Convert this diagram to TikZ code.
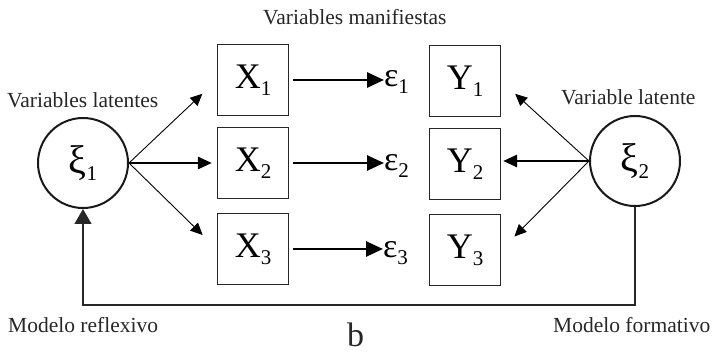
\documentclass[tikz,border=0pt]{standalone}
\usepackage{fontspec}
\setmainfont{Liberation Serif}
\usetikzlibrary{arrows.meta}
\newcommand\subn[1]{\raisebox{-7pt}{\fontsize{21}{21}\selectfont #1}}
\begin{document}
\begin{tikzpicture}[x=1pt,y=-1pt,
 var/.style={draw=black!85, line width=1.2pt, minimum size=71pt, inner sep=0pt, font=\fontsize{36}{36}\selectfont},
 lat/.style={circle, draw=black!90, line width=2pt, minimum size=90pt, inner sep=0pt, font=\fontsize{40}{40}\selectfont},
 lbl/.style={font=\fontsize{21.5}{22}\selectfont, inner sep=0pt, anchor=base west, text=black!85},
 err/.style={font=\fontsize{34}{34}\selectfont, inner sep=0pt, anchor=west},
 thinarr/.style={line width=0.9pt, -{Triangle[length=12pt,width=11pt]}},
 thickarr/.style={line width=2.6pt, -{Triangle[length=14pt,width=12pt]}},
 errarr/.style={line width=2.6pt, -{Triangle[length=17pt,width=15pt]}},
]
\useasboundingbox (0,0) rectangle (720,355);

\node[lat] (xi1) at (83,163) {ξ\subn{1}};
\node[lat] (xi2) at (635,161) {ξ\subn{2}};

\node[var] (X1) at (253,80) {X\subn{1}};
\node[var] (X2) at (253,163) {X\subn{2}};
\node[var] (X3) at (253,249) {X\subn{3}};
\node[var] (Y1) at (465,81) {Y\subn{1}};
\node[var] (Y2) at (465,164) {Y\subn{2}};
\node[var] (Y3) at (465,250) {Y\subn{3}};

\node[err] (e1) at (384,82) {ε\subn{1}};
\node[err] (e2) at (384,166) {ε\subn{2}};
\node[err] (e3) at (383,253) {ε\subn{3}};

\draw[errarr, shorten <=4pt] (X1.east) -- (X1.east -| e1.west);
\draw[errarr, shorten <=4pt] (X2.east) -- (X2.east -| e2.west);
\draw[errarr, shorten <=4pt] (X3.east) -- (X3.east -| e3.west);

\draw[thinarr, shorten >=20pt] (xi1.east) -- (X1.west);
\draw[thickarr, shorten >=5pt] (xi1.east) -- (xi1.east -| X2.west);
\draw[thinarr, shorten >=20pt] (xi1.east) -- (X3.west);

\draw[thinarr, shorten >=19pt] (xi2.west) -- (Y1.east);
\draw[thickarr, shorten >=2pt] (xi2.west) -- (xi2.west -| Y2.east);
\draw[thinarr, shorten >=19pt] (xi2.west) -- (Y3.east);

\coordinate (bot) at (360,305);
\draw[line width=1.2pt, draw=black!85, -{Triangle[length=15pt,width=17pt]}] (xi2.south) |- (bot) -| (xi1.south);

\node[lbl] (t1) at (263,25) {Variables manifiestas};
\node[lbl] (t2) at (7,108) {Variables latentes};
\node[lbl] (t3) at (561,105) {Variable latente};
\node[lbl] (t4) at (8,332) {Modelo reflexivo};
\node[lbl] (t5) at (553,332) {Modelo formativo};
\node[lbl, font=\fontsize{34}{34}\selectfont] (t6) at (347,346) {b};
\end{tikzpicture}
\end{document}
